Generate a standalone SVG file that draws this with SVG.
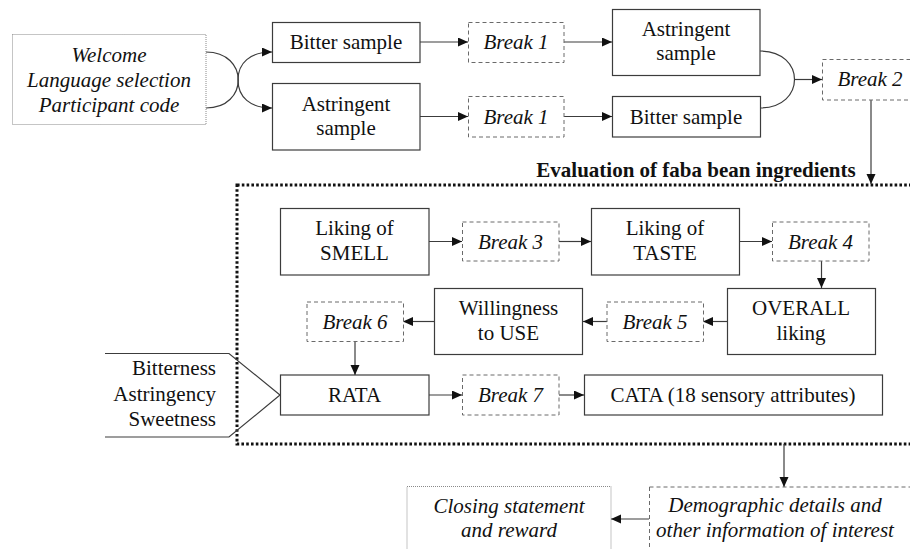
<svg xmlns="http://www.w3.org/2000/svg" width="910" height="549" viewBox="0 0 910 549">
  <style>
    text { font-family: "Liberation Serif", "Times New Roman", serif; font-size: 21px; fill: #111; text-anchor: middle; }
    .it { font-style: italic; }
    .bold { font-weight: bold; }
    .box { fill: #fff; stroke: #3c3c3c; stroke-width: 1.2; }
    .brk { fill: #fff; stroke: #6a6a6a; stroke-width: 1; stroke-dasharray: 4 3; }
    .dot { fill: #fff; stroke: #8a8a8a; stroke-width: 1; stroke-dasharray: 1 1; }
    .frame { fill: none; stroke: #111; stroke-width: 3; stroke-dasharray: 2.6 2.2; }
    .ln { fill: none; stroke: #3c3c3c; stroke-width: 1.2; }
    .arr { marker-end: url(#head); }
  </style>
  <defs>
    <marker id="head" markerUnits="userSpaceOnUse" markerWidth="11" markerHeight="10" refX="10" refY="4.5" orient="auto">
      <path d="M0,0 L10,4.5 L0,9 z" fill="#111"/>
    </marker>
  </defs>
  <rect width="910" height="549" fill="#fff"/>

  <!-- evaluation frame -->
  <g id="evaluation-frame">
    <rect class="frame" x="237" y="185" width="690" height="259"/>
    <text class="bold" x="696" y="177">Evaluation of faba bean ingredients</text>
  </g>

  <!-- connectors -->
  <g id="connectors">
    <path class="ln" d="M206,52 C249,52 249,108 206,108"/>
    <path class="ln arr" d="M238,80 C238,63 250,52 272,52"/>
    <path class="ln arr" d="M238,80 C238,97 250,108 272,108"/>
    <path class="ln arr" d="M420,42 L468,42"/>
    <path class="ln arr" d="M564,42 L612,42"/>
    <path class="ln arr" d="M420,116.5 L468,116.5"/>
    <path class="ln arr" d="M564,116.5 L612,116.5"/>
    <path class="ln" d="M760,51 C806,51 806,108 760,108"/>
    <path class="ln arr" d="M794.5,79.5 L822,79.5"/>
    <path class="ln arr" d="M871,100 L871,184"/>
    <path class="ln arr" d="M429,241.5 L462,241.5"/>
    <path class="ln arr" d="M559,241.5 L591,241.5"/>
    <path class="ln arr" d="M739,241.5 L772,241.5"/>
    <path class="ln arr" d="M821.5,261 L821.5,288"/>
    <path class="ln arr" d="M727,321.5 L703,321.5"/>
    <path class="ln arr" d="M607,321.5 L583,321.5"/>
    <path class="ln arr" d="M434,321.5 L403,321.5"/>
    <path class="ln arr" d="M355,342 L355,375"/>
    <path class="ln arr" d="M429,395 L462,395"/>
    <path class="ln arr" d="M559,395 L584,395"/>
    <path class="ln arr" d="M784,444 L784,487"/>
    <path class="ln arr" d="M649,519 L611,519"/>
  </g>

  <!-- introduction -->
  <g id="welcome">
    <rect class="dot" x="12.5" y="34.5" width="193.5" height="90"/>
    <text class="it" x="109" y="62">Welcome</text>
    <text class="it" x="109" y="87">Language selection</text>
    <text class="it" x="109" y="112">Participant code</text>
  </g>

  <!-- sample order A -->
  <g id="bitter-first">
    <rect class="box" x="272.5" y="22.5" width="147.5" height="40"/>
    <text x="346" y="49">Bitter sample</text>
  </g>
  <g id="break1-a">
    <rect class="brk" x="468.5" y="22.5" width="95.5" height="40"/>
    <text class="it" x="516" y="49">Break 1</text>
  </g>
  <g id="astringent-second">
    <rect class="box" x="612.5" y="9.5" width="147.5" height="66"/>
    <text x="686" y="36">Astringent</text>
    <text x="686" y="60">sample</text>
  </g>

  <!-- sample order B -->
  <g id="astringent-first">
    <rect class="box" x="272.5" y="83.5" width="147.5" height="66.5"/>
    <text x="346" y="110.5">Astringent</text>
    <text x="346" y="134.5">sample</text>
  </g>
  <g id="break1-b">
    <rect class="brk" x="468.5" y="96.5" width="95.5" height="40.5"/>
    <text class="it" x="516" y="124">Break 1</text>
  </g>
  <g id="bitter-second">
    <rect class="box" x="612.5" y="96.5" width="148" height="40.5"/>
    <text x="686" y="124">Bitter sample</text>
  </g>

  <g id="break2">
    <rect class="brk" x="822.5" y="59.5" width="96" height="40.5"/>
    <text class="it" x="870" y="86">Break 2</text>
  </g>

  <!-- evaluation steps -->
  <g id="liking-smell">
    <rect class="box" x="280.5" y="208.5" width="148.5" height="66.5"/>
    <text x="354.5" y="235">Liking of</text>
    <text x="354.5" y="260">SMELL</text>
  </g>
  <g id="break3">
    <rect class="brk" x="462.5" y="222" width="96.5" height="39"/>
    <text class="it" x="510.5" y="248.5">Break 3</text>
  </g>
  <g id="liking-taste">
    <rect class="box" x="591.5" y="208.5" width="148" height="66.5"/>
    <text x="665" y="235">Liking of</text>
    <text x="665" y="260">TASTE</text>
  </g>
  <g id="break4">
    <rect class="brk" x="772.5" y="222" width="96.5" height="39"/>
    <text class="it" x="820.5" y="248.5">Break 4</text>
  </g>
  <g id="overall-liking">
    <rect class="box" x="727.5" y="288.5" width="148" height="66"/>
    <text x="801" y="315">OVERALL</text>
    <text x="801" y="340">liking</text>
  </g>
  <g id="break5">
    <rect class="brk" x="607" y="302" width="96.5" height="39.5"/>
    <text class="it" x="655" y="329">Break 5</text>
  </g>
  <g id="willingness">
    <rect class="box" x="434.5" y="288.5" width="148" height="66"/>
    <text x="508.5" y="315">Willingness</text>
    <text x="508.5" y="340">to USE</text>
  </g>
  <g id="break6">
    <rect class="brk" x="307" y="302" width="96.5" height="39.5"/>
    <text class="it" x="355" y="329">Break 6</text>
  </g>
  <g id="rata-attributes">
    <polyline class="ln" points="105,353.5 229,353.5 280,395 229,437 105,437"/>
    <text x="216" y="375" text-anchor="end" style="text-anchor:end">Bitterness</text>
    <text x="216" y="401" style="text-anchor:end">Astringency</text>
    <text x="216" y="426" style="text-anchor:end">Sweetness</text>
  </g>
  <g id="rata">
    <rect class="box" x="280.5" y="375" width="148.5" height="40"/>
    <text x="354.5" y="402">RATA</text>
  </g>
  <g id="break7">
    <rect class="brk" x="462.5" y="375" width="96.5" height="40"/>
    <text class="it" x="510.5" y="402">Break 7</text>
  </g>
  <g id="cata">
    <rect class="box" x="584.5" y="375" width="298" height="40"/>
    <text x="733" y="402">CATA (18 sensory attributes)</text>
  </g>

  <!-- closing -->
  <g id="demographics">
    <rect class="brk" x="649.5" y="487" width="272" height="80"/>
    <text class="it" x="775" y="512">Demographic details and</text>
    <text class="it" x="775" y="537">other information of interest</text>
  </g>
  <g id="closing">
    <rect class="dot" x="407" y="486.5" width="204" height="80"/>
    <text class="it" x="509" y="513">Closing statement</text>
    <text class="it" x="509" y="537">and reward</text>
  </g>
</svg>
